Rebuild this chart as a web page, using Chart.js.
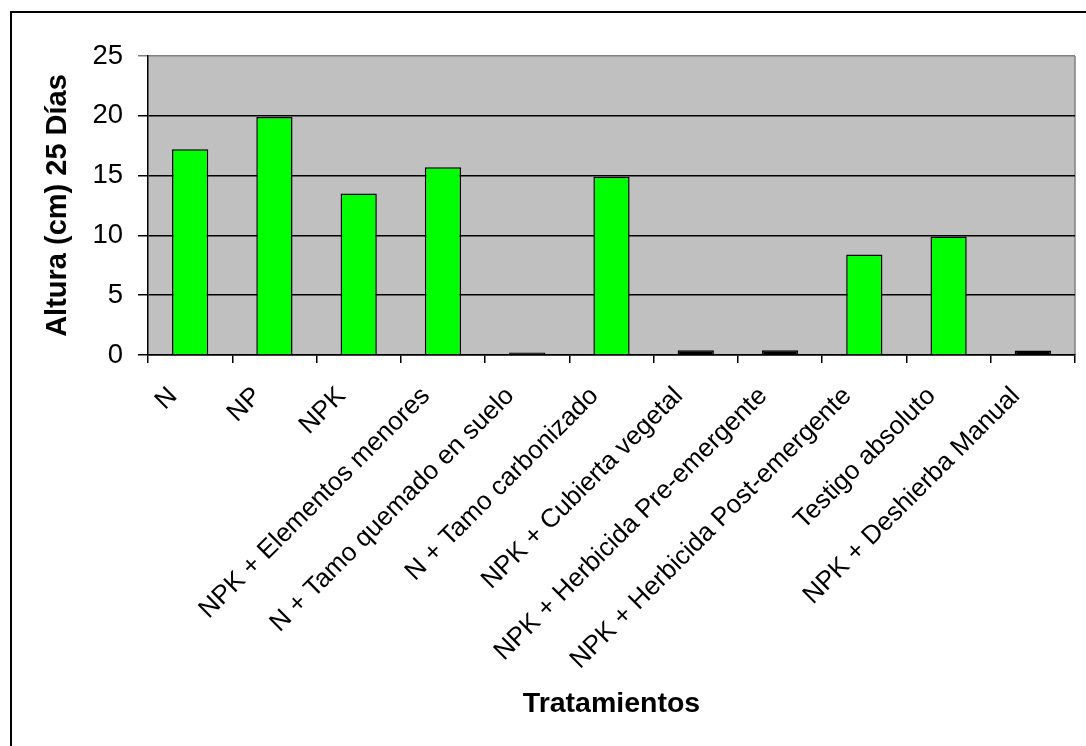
<!DOCTYPE html>
<html>
<head>
<meta charset="utf-8">
<script src="https://cdn.jsdelivr.net/npm/chart.js@4.4.0/dist/chart.umd.min.js"></script>
<style>
  html, body { margin: 0; padding: 0; background: #fff; overflow: hidden; }
  #wrap { position: relative; width: 1086px; height: 746px; }
  #frame { position: absolute; left: 10px; top: 11px; width: 1200px; height: 800px; border: 2px solid #000; }
  canvas { position: absolute; left: 0; top: 0; }
</style>
</head>
<body>
<div id="wrap">
  <div id="frame"></div>
  <canvas id="chart" width="1086" height="746"></canvas>
</div>
<script>
// data
var tratamientos = [
  "N",
  "NP",
  "NPK",
  "NPK + Elementos menores",
  "N + Tamo quemado en suelo",
  "N + Tamo carbonizado",
  "NPK + Cubierta vegetal",
  "NPK + Herbicida Pre-emergente",
  "NPK + Herbicida Post-emergente",
  "Testigo absoluto",
  "NPK + Deshierba Manual"
];
var altura25 = [17.2, 19.9, 13.5, 15.7, 0.2, 14.9, 0.4, 0.4, 8.4, 9.9, 0.38];
var yTicks = [0, 5, 10, 15, 20, 25];

var font = "'Liberation Sans', Arial, sans-serif";

// gray plot area with gray right border, like the old excel charts
var plotBg = {
  id: "plotBg",
  beforeDraw: function (chart) {
    var a = chart.chartArea;
    var c = chart.ctx;
    c.save();
    c.fillStyle = "#c0c0c0";
    c.fillRect(a.left, a.top, a.right - a.left, a.bottom - a.top);
    c.strokeStyle = "#808080";
    c.lineWidth = 1.5;
    c.beginPath();
    c.moveTo(a.right, a.top);
    c.lineTo(a.right, a.bottom);
    c.stroke();
    c.restore();
  }
};

var ctx = document.getElementById("chart").getContext("2d");
var chart = new Chart(ctx, {
  type: "bar",
  data: {
    labels: tratamientos,
    datasets: [
      {
        data: altura25,
        // the near-zero bars come out as solid black slivers in the original
        backgroundColor: function (c) {
          return c.raw < 1 ? "#000" : "#00ff00";
        },
        borderColor: "#000",
        borderWidth: 1.5,
        barPercentage: 0.43,
        categoryPercentage: 1
      }
    ]
  },
  options: {
    responsive: false,
    animation: false,
    layout: { padding: { top: 56, right: 11, left: 0, bottom: 0 } },
    plugins: {
      legend: { display: false },
      tooltip: { enabled: false }
    },
    scales: {
      x: {
        grid: {
          drawOnChartArea: false,
          drawTicks: true,
          tickLength: 8,
          color: "#000",
          lineWidth: 1.5
        },
        border: { color: "#000", width: 1.5 },
        ticks: {
          color: "#000",
          font: { family: font, size: 26 },
          minRotation: 45,
          maxRotation: 45,
          autoSkip: false,
          padding: 18,
          labelOffset: -17
        },
        title: {
          display: true,
          text: "Tratamientos",
          color: "#000",
          font: { family: font, size: 28.5, weight: "bold" },
          padding: { top: 0, bottom: 25 }
        },
        afterFit: function (scale) {
          scale.height = 746 - 355;
        }
      },
      y: {
        min: 0,
        max: 25,
        afterBuildTicks: function (scale) {
          scale.ticks = yTicks.map(function (v) { return { value: v }; });
        },
        grid: {
          color: function (c) {
            return c.tick && c.tick.value === 25 ? "#808080" : "#000";
          },
          lineWidth: 1.5,
          drawTicks: true,
          tickLength: 10
        },
        border: { color: "#000", width: 1.5 },
        ticks: {
          color: "#000",
          font: { family: font, size: 27.5 },
          padding: 15
        },
        title: {
          display: true,
          text: "Altura (cm) 25 Días",
          color: "#000",
          font: { family: font, size: 29, weight: "bold" },
          padding: { top: 41, bottom: 0 }
        },
        afterFit: function (scale) {
          scale.width = 148;
        }
      }
    }
  },
  plugins: [plotBg]
});
</script>
</body>
</html>
